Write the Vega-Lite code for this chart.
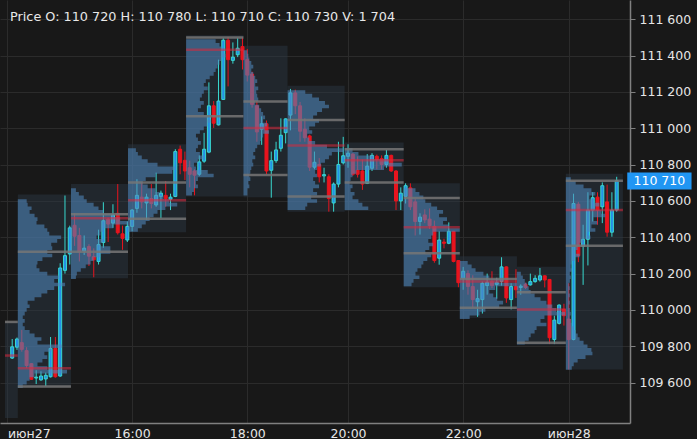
{
  "$schema": "https://vega.github.io/schema/vega-lite/v6.json",
  "width": 630,
  "height": 423,
  "autosize": {"type": "none"},
  "padding": {"left": 0, "top": 0, "right": 67, "bottom": 16},
  "background": "#181818",
  "config": {
    "view": {"stroke": null},
    "axis": {"labelFont": "DejaVu Sans", "labelFontSize": 12.5, "labelColor": "#e6e6e6", "gridColor": "#2b2b2b", "domainColor": "#808080", "tickColor": "#808080"},
    "text": {"font": "DejaVu Sans"}
  },
  "datasets": {
    "boxes": [
      {"b": 0, "t0": -1.5, "t1": 1.17, "top": 109934, "bot": 109405, "poc": 109749, "vah": 109934},
      {"b": 1, "t0": 1.17, "t1": 12.25, "top": 110635, "bot": 109573, "poc": 109679, "vah": 110320, "val": 109579},
      {"b": 2, "t0": 12.25, "t1": 24.14, "top": 110693, "bot": 110174, "poc": 110505, "vah": 110527, "val": 110320},
      {"b": 3, "t0": 24.14, "t1": 36.25, "top": 110912, "bot": 110428, "poc": 110604, "vah": 110702, "val": 110502},
      {"b": 4, "t0": 36.25, "t1": 48.2, "top": 111512, "bot": 110625, "poc": 111432, "vah": 111500, "val": 111066},
      {"b": 5, "t0": 48.2, "t1": 57.4, "top": 111455, "bot": 110621, "poc": 111002, "vah": 111147, "val": 110743},
      {"b": 6, "t0": 57.4, "t1": 69.3, "top": 111235, "bot": 110541, "poc": 110905, "vah": 111046, "val": 110625},
      {"b": 7, "t0": 69.3, "t1": 81.6, "top": 110922, "bot": 110545, "poc": 110824, "vah": 110885, "val": 110702},
      {"b": 8, "t0": 81.6, "t1": 93.3, "top": 110697, "bot": 110125, "poc": 110455, "vah": 110616, "val": 110312},
      {"b": 9, "t0": 93.3, "t1": 105.2, "top": 110296, "bot": 109955, "poc": 110156, "vah": 110170, "val": 110012},
      {"b": 10, "t0": 105.2, "t1": 115.4, "top": 110238, "bot": 109806, "poc": 110003, "vah": 110098, "val": 109819},
      {"b": 11, "t0": 115.4, "t1": 127.3, "top": 110750, "bot": 109672, "poc": 110550, "vah": 110711, "val": 110353}
    ],
    "candles": [
      {"i":0,"o":109735,"h":109840,"l":109730,"c":109797},
      {"i":1,"o":109795,"h":109848,"l":109780,"c":109840},
      {"i":2,"o":109820,"h":109890,"l":109770,"c":109783},
      {"i":3,"o":109776,"h":109795,"l":109680,"c":109694},
      {"i":4,"o":109704,"h":109706,"l":109615,"c":109618},
      {"i":5,"o":109625,"h":109668,"l":109592,"c":109630},
      {"i":6,"o":109615,"h":109662,"l":109610,"c":109636},
      {"i":7,"o":109620,"h":109655,"l":109580,"c":109640},
      {"i":8,"o":109632,"h":109851,"l":109628,"c":109788},
      {"i":9,"o":109788,"h":109851,"l":109627,"c":109632},
      {"i":10,"o":109636,"h":110257,"l":109632,"c":110231},
      {"i":11,"o":110218,"h":110630,"l":110200,"c":110299},
      {"i":12,"o":110308,"h":110464,"l":110250,"c":110452},
      {"i":13,"o":110466,"h":110532,"l":110353,"c":110406},
      {"i":14,"o":110410,"h":110452,"l":110267,"c":110320},
      {"i":15,"o":110324,"h":110410,"l":110303,"c":110340},
      {"i":16,"o":110349,"h":110362,"l":110242,"c":110296},
      {"i":17,"o":110293,"h":110339,"l":110180,"c":110276},
      {"i":18,"o":110267,"h":110442,"l":110250,"c":110360},
      {"i":19,"o":110371,"h":110593,"l":110342,"c":110491},
      {"i":20,"o":110500,"h":110508,"l":110374,"c":110473},
      {"i":21,"o":110478,"h":110582,"l":110452,"c":110523},
      {"i":22,"o":110532,"h":110693,"l":110415,"c":110425},
      {"i":23,"o":110419,"h":110464,"l":110331,"c":110394},
      {"i":24,"o":110385,"h":110487,"l":110374,"c":110460},
      {"i":25,"o":110460,"h":110555,"l":110433,"c":110550},
      {"i":26,"o":110559,"h":110720,"l":110535,"c":110631},
      {"i":27,"o":110621,"h":110702,"l":110559,"c":110595},
      {"i":28,"o":110589,"h":110640,"l":110496,"c":110621},
      {"i":29,"o":110613,"h":110693,"l":110559,"c":110586},
      {"i":30,"o":110578,"h":110756,"l":110568,"c":110631},
      {"i":31,"o":110625,"h":110657,"l":110505,"c":110643},
      {"i":32,"o":110631,"h":110710,"l":110568,"c":110613},
      {"i":33,"o":110609,"h":110640,"l":110550,"c":110621},
      {"i":34,"o":110625,"h":110885,"l":110621,"c":110872},
      {"i":35,"o":110885,"h":110905,"l":110747,"c":110810},
      {"i":36,"o":110824,"h":110872,"l":110715,"c":110765},
      {"i":37,"o":110783,"h":110822,"l":110675,"c":110747},
      {"i":38,"o":110765,"h":110774,"l":110631,"c":110742},
      {"i":39,"o":110747,"h":110851,"l":110738,"c":110815},
      {"i":40,"o":110819,"h":110975,"l":110810,"c":110885},
      {"i":41,"o":110869,"h":111253,"l":110863,"c":111124},
      {"i":42,"o":111124,"h":111150,"l":111002,"c":111028},
      {"i":43,"o":111019,"h":111378,"l":111016,"c":111150},
      {"i":44,"o":111159,"h":111496,"l":111156,"c":111485},
      {"i":45,"o":111485,"h":111503,"l":111231,"c":111378},
      {"i":46,"o":111374,"h":111473,"l":111356,"c":111392},
      {"i":47,"o":111405,"h":111496,"l":111392,"c":111441},
      {"i":48,"o":111450,"h":111500,"l":111324,"c":111378},
      {"i":49,"o":111378,"h":111437,"l":111258,"c":111293},
      {"i":50,"o":111299,"h":111312,"l":111114,"c":111132},
      {"i":51,"o":111124,"h":111150,"l":110926,"c":110980},
      {"i":52,"o":110995,"h":111066,"l":110909,"c":111025},
      {"i":53,"o":111025,"h":111043,"l":110747,"c":110765},
      {"i":54,"o":110769,"h":110872,"l":110618,"c":110822},
      {"i":55,"o":110822,"h":110926,"l":110810,"c":110881},
      {"i":56,"o":110890,"h":111055,"l":110872,"c":110962},
      {"i":57,"o":110976,"h":111055,"l":110917,"c":111052},
      {"i":58,"o":111073,"h":111217,"l":110989,"c":111195},
      {"i":59,"o":111195,"h":111213,"l":111078,"c":111124},
      {"i":60,"o":111124,"h":111145,"l":110926,"c":110984},
      {"i":61,"o":110995,"h":111055,"l":110926,"c":110948},
      {"i":62,"o":110958,"h":110965,"l":110765,"c":110786},
      {"i":63,"o":110786,"h":110872,"l":110774,"c":110813},
      {"i":64,"o":110801,"h":110836,"l":110702,"c":110733},
      {"i":65,"o":110738,"h":110783,"l":110702,"c":110745},
      {"i":66,"o":110733,"h":110747,"l":110541,"c":110613},
      {"i":67,"o":110589,"h":110702,"l":110541,"c":110693},
      {"i":68,"o":110693,"h":110926,"l":110675,"c":110801},
      {"i":69,"o":110810,"h":110953,"l":110801,"c":110849},
      {"i":70,"o":110846,"h":110912,"l":110783,"c":110863},
      {"i":71,"o":110858,"h":110863,"l":110738,"c":110747},
      {"i":72,"o":110769,"h":110846,"l":110729,"c":110747},
      {"i":73,"o":110765,"h":110828,"l":110661,"c":110693},
      {"i":74,"o":110697,"h":110858,"l":110693,"c":110792},
      {"i":75,"o":110780,"h":110863,"l":110765,"c":110851},
      {"i":76,"o":110846,"h":110855,"l":110774,"c":110828},
      {"i":77,"o":110833,"h":110851,"l":110774,"c":110801},
      {"i":78,"o":110801,"h":110881,"l":110783,"c":110851},
      {"i":79,"o":110851,"h":110855,"l":110760,"c":110765},
      {"i":80,"o":110765,"h":110770,"l":110550,"c":110600},
      {"i":81,"o":110600,"h":110675,"l":110550,"c":110643},
      {"i":82,"o":110625,"h":110697,"l":110586,"c":110684},
      {"i":83,"o":110672,"h":110697,"l":110550,"c":110568},
      {"i":84,"o":110595,"h":110613,"l":110410,"c":110487},
      {"i":85,"o":110487,"h":110532,"l":110415,"c":110511},
      {"i":86,"o":110523,"h":110554,"l":110478,"c":110496},
      {"i":87,"o":110500,"h":110559,"l":110446,"c":110464},
      {"i":88,"o":110460,"h":110492,"l":110260,"c":110272},
      {"i":89,"o":110285,"h":110433,"l":110249,"c":110385},
      {"i":90,"o":110374,"h":110392,"l":110339,"c":110367},
      {"i":91,"o":110367,"h":110482,"l":110362,"c":110433},
      {"i":92,"o":110433,"h":110435,"l":110262,"c":110267},
      {"i":93,"o":110272,"h":110275,"l":110125,"c":110150},
      {"i":94,"o":110174,"h":110237,"l":110111,"c":110213},
      {"i":95,"o":110200,"h":110218,"l":110084,"c":110129},
      {"i":96,"o":110129,"h":110191,"l":110012,"c":110057},
      {"i":97,"o":110045,"h":110111,"l":109962,"c":110062},
      {"i":98,"o":110057,"h":110156,"l":109980,"c":110147},
      {"i":99,"o":110134,"h":110200,"l":110084,"c":110152},
      {"i":100,"o":110156,"h":110213,"l":110120,"c":110134},
      {"i":101,"o":110141,"h":110177,"l":110062,"c":110150},
      {"i":102,"o":110156,"h":110290,"l":110134,"c":110237},
      {"i":103,"o":110237,"h":110240,"l":110039,"c":110066},
      {"i":104,"o":110057,"h":110147,"l":110003,"c":110129},
      {"i":105,"o":110129,"h":110224,"l":110066,"c":110111},
      {"i":106,"o":110124,"h":110141,"l":110084,"c":110131},
      {"i":107,"o":110141,"h":110150,"l":110115,"c":110124},
      {"i":108,"o":110138,"h":110200,"l":110134,"c":110156},
      {"i":109,"o":110156,"h":110191,"l":110150,"c":110174},
      {"i":110,"o":110165,"h":110231,"l":110156,"c":110188},
      {"i":111,"o":110188,"h":110190,"l":110124,"c":110165},
      {"i":112,"o":110168,"h":110170,"l":109812,"c":109847},
      {"i":113,"o":109837,"h":109968,"l":109812,"c":109944},
      {"i":114,"o":109926,"h":110030,"l":109920,"c":110027},
      {"i":115,"o":110003,"h":110034,"l":109914,"c":109968},
      {"i":116,"o":109950,"h":110147,"l":109672,"c":109837},
      {"i":117,"o":109837,"h":110640,"l":109833,"c":110586},
      {"i":118,"o":110582,"h":110595,"l":110263,"c":110299},
      {"i":119,"o":110350,"h":110469,"l":110138,"c":110389},
      {"i":120,"o":110389,"h":110648,"l":110245,"c":110550},
      {"i":121,"o":110550,"h":110648,"l":110487,"c":110618},
      {"i":122,"o":110621,"h":110648,"l":110469,"c":110550},
      {"i":123,"o":110568,"h":110702,"l":110478,"c":110684},
      {"i":124,"o":110595,"h":110690,"l":110403,"c":110428},
      {"i":125,"o":110428,"h":110648,"l":110403,"c":110550},
      {"i":126,"o":110550,"h":110733,"l":110541,"c":110711}
    ],
    "profile": [
      {"b":1,"p":110630,"e":1.17},
      {"b":1,"p":110610,"e":3.02},{"b":1,"p":110590,"e":3.22},{"b":1,"p":110570,"e":4.04},{"b":1,"p":110550,"e":3.63},
      {"b":1,"p":110530,"e":4.66},{"b":1,"p":110510,"e":5.27},{"b":1,"p":110490,"e":5.07},{"b":1,"p":110470,"e":6.71},
      {"b":1,"p":110450,"e":7.32},{"b":1,"p":110430,"e":7.73},{"b":1,"p":110410,"e":10.2},{"b":1,"p":110390,"e":9.38},
      {"b":1,"p":110370,"e":8.14},{"b":1,"p":110350,"e":8.35},{"b":1,"p":110330,"e":7.32},{"b":1,"p":110310,"e":8.35},
      {"b":1,"p":110290,"e":6.3},{"b":1,"p":110270,"e":5.27},{"b":1,"p":110250,"e":5.07},{"b":1,"p":110230,"e":5.68},
      {"b":1,"p":110210,"e":7.32},{"b":1,"p":110190,"e":9.79},{"b":1,"p":110170,"e":8.76},{"b":1,"p":110150,"e":11.02},
      {"b":1,"p":110130,"e":8.76},{"b":1,"p":110110,"e":7.32},{"b":1,"p":110090,"e":6.09},{"b":1,"p":110070,"e":4.66},
      {"b":1,"p":110050,"e":3.22},{"b":1,"p":110030,"e":3.63},{"b":1,"p":110010,"e":3.02},{"b":1,"p":109990,"e":2.61},
      {"b":1,"p":109970,"e":2.2},{"b":1,"p":109950,"e":2.61},{"b":1,"p":109930,"e":2.2},{"b":1,"p":109910,"e":2.61},
      {"b":1,"p":109890,"e":3.63},{"b":1,"p":109870,"e":4.66},{"b":1,"p":109850,"e":6.09},{"b":1,"p":109830,"e":5.27},
      {"b":1,"p":109810,"e":10.4},{"b":1,"p":109790,"e":8.14},{"b":1,"p":109770,"e":6.71},{"b":1,"p":109750,"e":7.32},
      {"b":1,"p":109730,"e":6.3},{"b":1,"p":109710,"e":5.27},{"b":1,"p":109690,"e":7.32},{"b":1,"p":109670,"e":11.43},
      {"b":1,"p":109650,"e":4.66},{"b":1,"p":109630,"e":3.63},{"b":1,"p":109610,"e":3.02},{"b":1,"p":109590,"e":2.2},
      {"b":1,"p":109570,"e":1.99},
      {"b":2,"p":110690,"e":12.25},
      {"b":2,"p":110670,"e":13.28},{"b":2,"p":110650,"e":13.89},{"b":2,"p":110630,"e":14.92},{"b":2,"p":110610,"e":15.53},
      {"b":2,"p":110590,"e":16.97},{"b":2,"p":110570,"e":17.99},{"b":2,"p":110550,"e":19.02},{"b":2,"p":110530,"e":21.07},
      {"b":2,"p":110510,"e":22.51},{"b":2,"p":110490,"e":24.14},{"b":2,"p":110470,"e":21.07},{"b":2,"p":110450,"e":19.02},
      {"b":2,"p":110430,"e":18.4},{"b":2,"p":110410,"e":17.58},{"b":2,"p":110390,"e":19.02},{"b":2,"p":110370,"e":18.4},
      {"b":2,"p":110350,"e":20.46},{"b":2,"p":110330,"e":20.46},{"b":2,"p":110310,"e":18.4},{"b":2,"p":110290,"e":16.97},
      {"b":2,"p":110270,"e":16.35},{"b":2,"p":110250,"e":15.33},{"b":2,"p":110230,"e":14.3},{"b":2,"p":110210,"e":13.48},
      {"b":2,"p":110190,"e":13.28},{"b":2,"p":110170,"e":12.87},
      {"b":3,"p":110910,"e":24.14},
      {"b":3,"p":110890,"e":25.78},{"b":3,"p":110870,"e":26.19},{"b":3,"p":110850,"e":27.01},{"b":3,"p":110830,"e":28.24},
      {"b":3,"p":110810,"e":30.29},{"b":3,"p":110790,"e":33.99},{"b":3,"p":110770,"e":33.37},{"b":3,"p":110750,"e":29.88},
      {"b":3,"p":110730,"e":27.83},{"b":3,"p":110710,"e":27.22},{"b":3,"p":110690,"e":28.24},{"b":3,"p":110670,"e":29.88},
      {"b":3,"p":110650,"e":30.7},{"b":3,"p":110630,"e":31.52},{"b":3,"p":110610,"e":32.76},{"b":3,"p":110590,"e":34.4},
      {"b":3,"p":110570,"e":31.93},{"b":3,"p":110550,"e":30.29},{"b":3,"p":110530,"e":29.47},{"b":3,"p":110510,"e":28.65},
      {"b":3,"p":110490,"e":27.83},{"b":3,"p":110470,"e":27.01},{"b":3,"p":110450,"e":26.19},{"b":3,"p":110430,"e":25.58},
      {"b":4,"p":111510,"e":36.25},
      {"b":4,"p":111490,"e":42.4},{"b":4,"p":111470,"e":43.22},{"b":4,"p":111450,"e":43.63},{"b":4,"p":111430,"e":44.04},
      {"b":4,"p":111410,"e":44.46},{"b":4,"p":111390,"e":43.63},{"b":4,"p":111370,"e":43.22},{"b":4,"p":111350,"e":42.81},
      {"b":4,"p":111330,"e":42.4},{"b":4,"p":111310,"e":41.99},{"b":4,"p":111290,"e":41.17},{"b":4,"p":111270,"e":40.35},
      {"b":4,"p":111250,"e":39.94},{"b":4,"p":111230,"e":40.76},{"b":4,"p":111210,"e":39.94},{"b":4,"p":111190,"e":39.53},
      {"b":4,"p":111170,"e":39.12},{"b":4,"p":111150,"e":39.94},{"b":4,"p":111130,"e":39.33},{"b":4,"p":111110,"e":38.71},
      {"b":4,"p":111090,"e":39.94},{"b":4,"p":111070,"e":40.76},{"b":4,"p":111050,"e":41.38},{"b":4,"p":111030,"e":40.76},
      {"b":4,"p":111010,"e":39.94},{"b":4,"p":110990,"e":39.12},{"b":4,"p":110970,"e":38.3},{"b":4,"p":110950,"e":38.71},
      {"b":4,"p":110930,"e":39.33},{"b":4,"p":110910,"e":38.71},{"b":4,"p":110890,"e":38.3},{"b":4,"p":110870,"e":39.12},
      {"b":4,"p":110850,"e":39.94},{"b":4,"p":110830,"e":38.71},{"b":4,"p":110810,"e":37.89},{"b":4,"p":110790,"e":38.3},
      {"b":4,"p":110770,"e":40.76},{"b":4,"p":110750,"e":41.99},{"b":4,"p":110730,"e":38.71},{"b":4,"p":110710,"e":38.3},
      {"b":4,"p":110690,"e":38.71},{"b":4,"p":110670,"e":37.89},{"b":4,"p":110650,"e":37.48},{"b":4,"p":110630,"e":37.28},
      {"b":5,"p":111450,"e":48.2},
      {"b":5,"p":111430,"e":49.02},{"b":5,"p":111410,"e":49.23},{"b":5,"p":111390,"e":49.43},{"b":5,"p":111370,"e":49.84},
      {"b":5,"p":111350,"e":50.25},{"b":5,"p":111330,"e":49.84},{"b":5,"p":111310,"e":50.25},{"b":5,"p":111290,"e":50.66},
      {"b":5,"p":111270,"e":51.07},{"b":5,"p":111250,"e":50.66},{"b":5,"p":111230,"e":51.28},{"b":5,"p":111210,"e":50.87},
      {"b":5,"p":111190,"e":51.07},{"b":5,"p":111170,"e":51.28},{"b":5,"p":111150,"e":50.66},{"b":5,"p":111130,"e":51.48},
      {"b":5,"p":111110,"e":51.89},{"b":5,"p":111090,"e":52.3},{"b":5,"p":111070,"e":52.71},{"b":5,"p":111050,"e":52.3},
      {"b":5,"p":111030,"e":53.12},{"b":5,"p":111010,"e":52.71},{"b":5,"p":110990,"e":53.53},{"b":5,"p":110970,"e":52.3},
      {"b":5,"p":110950,"e":51.89},{"b":5,"p":110930,"e":51.69},{"b":5,"p":110910,"e":51.07},{"b":5,"p":110890,"e":50.66},
      {"b":5,"p":110870,"e":50.25},{"b":5,"p":110850,"e":50.66},{"b":5,"p":110830,"e":50.05},{"b":5,"p":110810,"e":50.25},
      {"b":5,"p":110790,"e":49.84},{"b":5,"p":110770,"e":49.64},{"b":5,"p":110750,"e":49.43},{"b":5,"p":110730,"e":49.64},
      {"b":5,"p":110710,"e":49.23},{"b":5,"p":110690,"e":49.43},{"b":5,"p":110670,"e":49.02},{"b":5,"p":110650,"e":49.02},
      {"b":5,"p":110630,"e":48.82},
      {"b":6,"p":111230,"e":57.4},
      {"b":6,"p":111210,"e":61.09},{"b":6,"p":111190,"e":62.53},{"b":6,"p":111170,"e":63.96},{"b":6,"p":111150,"e":65.19},
      {"b":6,"p":111130,"e":66.02},{"b":6,"p":111110,"e":64.58},{"b":6,"p":111090,"e":63.55},{"b":6,"p":111070,"e":62.73},
      {"b":6,"p":111050,"e":63.96},{"b":6,"p":111030,"e":63.14},{"b":6,"p":111010,"e":61.91},{"b":6,"p":110990,"e":62.53},
      {"b":6,"p":110970,"e":61.5},{"b":6,"p":110950,"e":61.91},{"b":6,"p":110930,"e":63.14},{"b":6,"p":110910,"e":65.61},
      {"b":6,"p":110890,"e":69.09},{"b":6,"p":110870,"e":66.63},{"b":6,"p":110850,"e":66.02},{"b":6,"p":110830,"e":65.19},
      {"b":6,"p":110810,"e":64.37},{"b":6,"p":110790,"e":63.55},{"b":6,"p":110770,"e":63.14},{"b":6,"p":110750,"e":63.55},
      {"b":6,"p":110730,"e":62.73},{"b":6,"p":110710,"e":63.14},{"b":6,"p":110690,"e":63.96},{"b":6,"p":110670,"e":62.73},
      {"b":6,"p":110650,"e":63.55},{"b":6,"p":110630,"e":62.32},{"b":6,"p":110610,"e":63.55},{"b":6,"p":110590,"e":61.5},
      {"b":6,"p":110570,"e":61.09},{"b":6,"p":110550,"e":59.86},
      {"b":7,"p":110910,"e":69.3},
      {"b":7,"p":110890,"e":70.94},{"b":7,"p":110870,"e":72.17},{"b":7,"p":110850,"e":75.45},{"b":7,"p":110830,"e":78.53},
      {"b":7,"p":110810,"e":81.2},{"b":7,"p":110790,"e":77.51},{"b":7,"p":110770,"e":71.76},{"b":7,"p":110750,"e":70.94},
      {"b":7,"p":110730,"e":70.53},{"b":7,"p":110710,"e":70.33},{"b":7,"p":110690,"e":70.94},{"b":7,"p":110670,"e":70.53},
      {"b":7,"p":110650,"e":71.35},{"b":7,"p":110630,"e":70.94},{"b":7,"p":110610,"e":72.17},{"b":7,"p":110590,"e":72.99},
      {"b":7,"p":110570,"e":74.22},{"b":7,"p":110550,"e":71.76},
      {"b":8,"p":110690,"e":81.6},
      {"b":8,"p":110670,"e":84.06},{"b":8,"p":110650,"e":84.88},{"b":8,"p":110630,"e":85.7},{"b":8,"p":110610,"e":86.11},
      {"b":8,"p":110590,"e":87.34},{"b":8,"p":110570,"e":88.57},{"b":8,"p":110550,"e":89.81},{"b":8,"p":110530,"e":88.98},
      {"b":8,"p":110510,"e":90.63},{"b":8,"p":110490,"e":89.81},{"b":8,"p":110470,"e":91.04},{"b":8,"p":110450,"e":93.29},
      {"b":8,"p":110430,"e":87.75},{"b":8,"p":110410,"e":87.34},{"b":8,"p":110390,"e":86.73},{"b":8,"p":110370,"e":87.75},
      {"b":8,"p":110350,"e":86.93},{"b":8,"p":110330,"e":86.11},{"b":8,"p":110310,"e":87.34},{"b":8,"p":110290,"e":86.52},
      {"b":8,"p":110270,"e":85.7},{"b":8,"p":110250,"e":85.29},{"b":8,"p":110230,"e":84.47},{"b":8,"p":110210,"e":84.06},
      {"b":8,"p":110190,"e":84.88},{"b":8,"p":110170,"e":83.65},{"b":8,"p":110150,"e":83.24},{"b":8,"p":110130,"e":82.83},
      {"b":9,"p":110290,"e":93.3},
      {"b":9,"p":110270,"e":94.94},{"b":9,"p":110250,"e":95.76},{"b":9,"p":110230,"e":96.58},{"b":9,"p":110210,"e":98.22},
      {"b":9,"p":110190,"e":99.45},{"b":9,"p":110170,"e":101.51},{"b":9,"p":110150,"e":105.2},{"b":9,"p":110130,"e":100.68},
      {"b":9,"p":110110,"e":99.45},{"b":9,"p":110090,"e":100.27},{"b":9,"p":110070,"e":101.09},{"b":9,"p":110050,"e":102.32},
      {"b":9,"p":110030,"e":101.51},{"b":9,"p":110010,"e":98.63},{"b":9,"p":109990,"e":97.4},{"b":9,"p":109970,"e":95.35},
      {"b":9,"p":109950,"e":94.74},
      {"b":10,"p":110230,"e":105.2},
      {"b":10,"p":110210,"e":106.02},{"b":10,"p":110190,"e":106.43},{"b":10,"p":110170,"e":106.84},{"b":10,"p":110150,"e":107.25},
      {"b":10,"p":110130,"e":107.66},{"b":10,"p":110110,"e":108.07},{"b":10,"p":110090,"e":108.89},{"b":10,"p":110070,"e":110.12},
      {"b":10,"p":110050,"e":111.35},{"b":10,"p":110030,"e":112.58},{"b":10,"p":110010,"e":113.41},{"b":10,"p":109990,"e":115.25},
      {"b":10,"p":109970,"e":110.94},{"b":10,"p":109950,"e":110.12},{"b":10,"p":109930,"e":111.35},{"b":10,"p":109910,"e":109.3},
      {"b":10,"p":109890,"e":108.89},{"b":10,"p":109870,"e":108.07},{"b":10,"p":109850,"e":107.66},{"b":10,"p":109830,"e":106.84},
      {"b":10,"p":109810,"e":106.43},
      {"b":11,"p":110750,"e":115.4},
      {"b":11,"p":110730,"e":116.43},{"b":11,"p":110710,"e":117.45},{"b":11,"p":110690,"e":119.09},{"b":11,"p":110670,"e":120.73},
      {"b":11,"p":110650,"e":121.55},{"b":11,"p":110630,"e":120.32},{"b":11,"p":110610,"e":121.14},{"b":11,"p":110590,"e":122.37},
      {"b":11,"p":110570,"e":121.55},{"b":11,"p":110550,"e":122.78},{"b":11,"p":110530,"e":123.61},{"b":11,"p":110510,"e":121.14},
      {"b":11,"p":110490,"e":121.96},{"b":11,"p":110470,"e":120.73},{"b":11,"p":110450,"e":121.55},{"b":11,"p":110430,"e":119.91},
      {"b":11,"p":110410,"e":120.53},{"b":11,"p":110390,"e":119.09},{"b":11,"p":110370,"e":118.27},{"b":11,"p":110350,"e":117.86},
      {"b":11,"p":110330,"e":117.45},{"b":11,"p":110310,"e":118.27},{"b":11,"p":110290,"e":117.25},{"b":11,"p":110270,"e":116.63},
      {"b":11,"p":110250,"e":116.43},{"b":11,"p":110230,"e":116.63},{"b":11,"p":110210,"e":116.22},{"b":11,"p":110190,"e":116.43},
      {"b":11,"p":110170,"e":116.22},{"b":11,"p":110150,"e":116.02},{"b":11,"p":110130,"e":116.22},{"b":11,"p":110110,"e":116.02},
      {"b":11,"p":110090,"e":116.22},{"b":11,"p":110070,"e":116.02},{"b":11,"p":110050,"e":116.22},{"b":11,"p":110030,"e":116.02},
      {"b":11,"p":110010,"e":116.22},{"b":11,"p":109990,"e":116.43},{"b":11,"p":109970,"e":116.22},{"b":11,"p":109950,"e":116.43},
      {"b":11,"p":109930,"e":116.63},{"b":11,"p":109910,"e":117.04},{"b":11,"p":109890,"e":117.45},{"b":11,"p":109870,"e":117.86},
      {"b":11,"p":109850,"e":118.27},{"b":11,"p":109830,"e":119.09},{"b":11,"p":109810,"e":119.91},{"b":11,"p":109790,"e":120.73},
      {"b":11,"p":109770,"e":120.94},{"b":11,"p":109750,"e":119.5},{"b":11,"p":109730,"e":117.86},{"b":11,"p":109710,"e":117.04},
      {"b":11,"p":109690,"e":116.63},{"b":11,"p":109670,"e":116.22}
    ],
    "last": [{"p": 110710, "s": "110 710"}],
    "head": [{"t": "Price O: 110 720  H: 110 780  L: 110 710  C: 110 730  V: 1 704"}]
  },
  "layer": [
    {
      "data": {"name": "boxes"},
      "mark": {"type": "rect", "fill": "#2c3a48", "opacity": 0.45},
      "encoding": {
        "x": {"field": "t0", "type": "quantitative", "title": null,
          "scale": {"domain": [-1.5, 127.73], "nice": false, "zero": false},
          "axis": {"values": [-1, 25, 49, 70, 94, 116],
            "labelExpr": "datum.value == -1 ? 'июн27' : datum.value == 25 ? '16:00' : datum.value == 49 ? '18:00' : datum.value == 70 ? '20:00' : datum.value == 94 ? '22:00' : 'июн28'",
            "labelAlign": {"condition": {"test": "datum.value == -1", "value": "left"}, "value": "center"},
            "grid": true, "ticks": false, "labelPadding": 4, "labelFlush": false, "labelOverlap": false, "domainWidth": 1.5}},
        "x2": {"field": "t1"},
        "y": {"field": "top", "type": "quantitative", "title": null,
          "scale": {"domain": [109405, 111679], "nice": false, "zero": false},
          "axis": {"orient": "right", "values": [109600, 109800, 110000, 110200, 110400, 110600, 110800, 111000, 111200, 111400, 111600],
            "labelExpr": "replace(format(datum.value, ','), ',', ' ')",
            "grid": true, "tickSize": 5, "labelPadding": 4, "labelFlush": false, "labelOverlap": false, "domainWidth": 1.5}},
        "y2": {"field": "bot"}
      }
    },
    {
      "data": {"name": "candles"},
      "mark": {"type": "rule", "strokeWidth": 1},
      "encoding": {
        "x": {"field": "i", "type": "quantitative", "title": null},
        "y": {"field": "l", "type": "quantitative", "title": null},
        "y2": {"field": "h"},
        "color": {"condition": {"test": "datum.c >= datum.o", "value": "#38d8cf"}, "value": "#e8141e"}
      }
    },
    {
      "data": {"name": "candles"},
      "mark": {"type": "bar", "size": 3, "strokeWidth": 1},
      "encoding": {
        "x": {"field": "i", "type": "quantitative", "title": null},
        "y": {"field": "o", "type": "quantitative", "title": null},
        "y2": {"field": "c"},
        "fill": {"condition": {"test": "datum.c >= datum.o", "value": "#2490e6"}, "value": "#e8141e"},
        "stroke": {"condition": {"test": "datum.c >= datum.o", "value": "#38d8cf"}, "value": "#e8141e"}
      }
    },
    {
      "data": {"name": "profile"},
      "transform": [{"lookup": "b", "from": {"data": {"name": "boxes"}, "key": "b", "fields": ["t0"]}}],
      "mark": {"type": "area", "orient": "horizontal", "interpolate": "step-before", "color": "#4f86bb", "opacity": 0.58},
      "encoding": {
        "y": {"field": "p", "type": "quantitative", "title": null},
        "x": {"field": "e", "type": "quantitative", "title": null, "stack": null},
        "x2": {"field": "t0"},
        "detail": {"field": "b", "type": "nominal"}
      }
    },
    {
      "data": {"name": "boxes"},
      "mark": {"type": "rule", "color": "#767676", "strokeWidth": 2.5, "opacity": 0.85},
      "encoding": {
        "x": {"field": "t0", "type": "quantitative", "title": null},
        "x2": {"field": "t1"},
        "y": {"field": "vah", "type": "quantitative", "title": null}
      }
    },
    {
      "data": {"name": "boxes"},
      "mark": {"type": "rule", "color": "#767676", "strokeWidth": 2.5, "opacity": 0.85},
      "encoding": {
        "x": {"field": "t0", "type": "quantitative", "title": null},
        "x2": {"field": "t1"},
        "y": {"field": "val", "type": "quantitative", "title": null}
      }
    },
    {
      "data": {"name": "boxes"},
      "mark": {"type": "rule", "color": "#d8283c", "strokeWidth": 2.5, "opacity": 0.55},
      "encoding": {
        "x": {"field": "t0", "type": "quantitative", "title": null},
        "x2": {"field": "t1"},
        "y": {"field": "poc", "type": "quantitative", "title": null}
      }
    },
    {
      "data": {"name": "last"},
      "mark": {"type": "bar", "orient": "horizontal", "size": 17, "fill": "#2196f3"},
      "encoding": {
        "x": {"datum": 128.2},
        "x2": {"datum": 141.6},
        "y": {"field": "p", "type": "quantitative", "title": null}
      }
    },
    {
      "data": {"name": "last"},
      "mark": {"type": "text", "align": "left", "baseline": "middle", "fontSize": 12.5, "color": "#ffffff"},
      "encoding": {
        "x": {"datum": 129.5},
        "y": {"field": "p", "type": "quantitative", "title": null},
        "text": {"field": "s"}
      }
    },
    {
      "data": {"name": "head"},
      "mark": {"type": "text", "align": "left", "baseline": "middle", "fontSize": 12.8, "color": "#e8e8e8"},
      "encoding": {
        "x": {"datum": -0.45},
        "y": {"datum": 111614},
        "text": {"field": "t"}
      }
    }
  ]
}
